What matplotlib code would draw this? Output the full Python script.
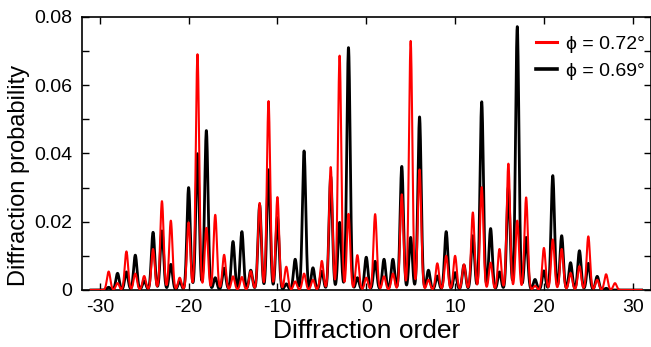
import numpy as np
import matplotlib
matplotlib.use('Agg')
import matplotlib.pyplot as plt
from matplotlib.ticker import MultipleLocator, FixedLocator, FixedFormatter
from matplotlib.lines import Line2D

plt.rcParams['font.family'] = ['Liberation Sans', 'DejaVu Sans']
plt.rcParams['axes.unicode_minus'] = False

# Diffraction orders and peak probabilities
orders = np.arange(-30, 31)
p_072 = [0, 0.0054, 0.002, 0.0113, 0.0048, 0.0041, 0.012, 0.026, 0.0203, 0.0036,
         0.0198, 0.069, 0.0182, 0.022, 0.0103, 0.004, 0.0038, 0.0055, 0.0255, 0.0553,
         0.0272, 0.0068, 0.0025, 0.0048, 0.003, 0.0085, 0.036, 0.0686, 0.0223, 0.0102,
         0.0036,
         0.0222, 0.004, 0.0048, 0.028, 0.0729, 0.0353, 0.003, 0.0078, 0.010, 0.010,
         0.0075, 0.0227, 0.0301, 0.008, 0.012, 0.037, 0.0203, 0.0271, 0.0012, 0.0123,
         0.0148, 0.012, 0.005, 0.007, 0.0157, 0.003, 0.0046, 0.002, 0, 0]
p_069 = [0, 0.0008, 0.0049, 0.0053, 0.0102, 0.0027, 0.0169, 0.0173, 0.0075, 0.0025,
         0.030, 0.0399, 0.0467, 0.0036, 0.0064, 0.0142, 0.0171, 0.0058, 0.0249, 0.0352,
         0.0212, 0.0018, 0.009, 0.0407, 0.0065, 0.0055, 0.0332, 0.0198, 0.071, 0.0036,
         0.0096,
         0.0084, 0.009, 0.009, 0.0362, 0.0154, 0.0507, 0.0058, 0.0041, 0.0171, 0.0051,
         0.0073, 0.0159, 0.0551, 0.018, 0.0053, 0.0301, 0.0771, 0.0154, 0.0031, 0.0056,
         0.0335, 0.0159, 0.008, 0.0115, 0.0078, 0.004, 0.0005, 0, 0, 0]
labels = ['\u03d5 = 0.72\u00b0', '\u03d5 = 0.69\u00b0']


def peaks(x, heights, w=0.19):
    # each order drawn as a narrow peak
    y = np.zeros_like(x)
    for n, h in zip(orders, heights):
        y += h * np.exp(-0.5 * ((x - n) / w) ** 2)
    return y


x = np.linspace(-31, 31, 4000)

fig = plt.figure(figsize=(6.51, 3.47), dpi=100)
ax = fig.add_axes([82 / 651, 1 - 290 / 347, 568.5 / 651, 273.3 / 347])

ax.plot(x, peaks(x, p_069), color='black', lw=2.0, zorder=2)
ax.plot(x, peaks(x, p_072), color='red', lw=1.5, zorder=3)

ax.set_xlim(-32, 32)
ax.set_ylim(0, 0.08)
ax.xaxis.set_major_locator(MultipleLocator(10))
ax.yaxis.set_major_locator(FixedLocator([0, 0.02, 0.04, 0.06, 0.08]))
ax.yaxis.set_major_formatter(FixedFormatter(['0', '0.02', '0.04', '0.06', '0.08']))
ax.yaxis.set_minor_locator(MultipleLocator(0.01))
ax.tick_params(axis='both', which='both', direction='in', top=True, right=True,
               length=5, width=1, labelsize=14)
ax.tick_params(axis='x', pad=6.5)
ax.tick_params(axis='y', pad=7)
for s in ax.spines.values():
    s.set_linewidth(1.2)

ax.set_xlabel('Diffraction order', fontsize=19, labelpad=2)
ax.set_ylabel('Diffraction probability', fontsize=17)
ax.yaxis.set_label_coords(-0.092, 0.42)

handles = [Line2D([], [], color='red', lw=2.2), Line2D([], [], color='black', lw=2.6)]
ax.legend(handles, labels, loc='upper right', bbox_to_anchor=(1.0, 0.952),
          frameon=False, fontsize=14, handlelength=1.1, handletextpad=0.45,
          labelspacing=0.45, borderaxespad=0, borderpad=0.3)

fig.savefig('out.png', dpi=100)
